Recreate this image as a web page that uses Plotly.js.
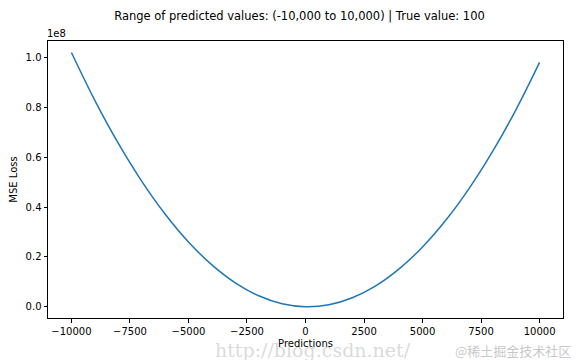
<!DOCTYPE html>
<html>
<head>
<meta charset="utf-8">
<script src="https://cdn.plot.ly/plotly-3.0.1.min.js"></script>
<style>html,body{margin:0;padding:0;background:#fff;}#chart{width:576px;height:360px;}</style>
</head>
<body>
<div id="chart"></div>
<script>
// Predictions and MSE loss (in units of 1e8)
var predictions = [-10000, -9000, -8000, -7000, -6000, -5000, -4000, -3000, -2000, -1000, 0, 1000, 2000, 3000, 4000, 5000, 6000, 7000, 8000, 9000, 10000];
var mseLoss = [1.020, 0.828, 0.656, 0.504, 0.372, 0.260, 0.168, 0.096, 0.044, 0.012, 0.000, 0.008, 0.036, 0.084, 0.152, 0.240, 0.348, 0.476, 0.624, 0.792, 0.980];
var xTicks = [-10000, -7500, -5000, -2500, 0, 2500, 5000, 7500, 10000];
var yTicks = [0.0, 0.2, 0.4, 0.6, 0.8, 1.0];

var font = "DejaVu Sans, sans-serif";
var trace = {
  x: predictions, y: mseLoss, type: 'scatter', mode: 'lines',
  line: {color: '#1f77b4', width: 1.5, shape: 'spline', smoothing: 1},
  hoverinfo: 'none'
};
var layout = {
  width: 576, height: 360,
  margin: {l: 48, r: 13, t: 41, b: 42},
  paper_bgcolor: '#fff', plot_bgcolor: '#fff',
  showlegend: false,
  title: {text: 'Range of predicted values: (-10,000 to 10,000) | True value: 100',
    font: {family: font, size: 11.5, color: '#000'}, x: 0.52, xanchor: 'center', y: 0.955, yanchor: 'middle'},
  xaxis: {range: [-11000, 11000], tickvals: xTicks, ticktext: xTicks.map(function(v){return v<0?'\u2212'+(-v):String(v);}),
    showgrid: false, zeroline: false, showline: true, mirror: true, linecolor: '#000', linewidth: 1,
    ticks: 'outside', ticklen: 3.5, tickcolor: '#000', tickfont: {family: font, size: 10, color: '#000'},
    title: {text: 'Predictions', font: {family: font, size: 10, color: '#000'}, standoff: 4}},
  yaxis: {range: [-0.045, 1.066], tickvals: yTicks, ticktext: yTicks.map(function(v){return v.toFixed(1);}),
    showgrid: false, zeroline: false, showline: true, mirror: true, linecolor: '#000', linewidth: 1,
    ticks: 'outside', ticklen: 3.5, tickcolor: '#000', tickfont: {family: font, size: 10, color: '#000'},
    title: {text: 'MSE Loss', font: {family: font, size: 10, color: '#000'}, standoff: 6}},
  annotations: [
    {text: '1e8', xref: 'paper', yref: 'paper', x: 0, y: 1, xanchor: 'left', yanchor: 'bottom', showarrow: false,
      font: {family: font, size: 10, color: '#000'}, xshift: -3, yshift: 0},
    {text: 'http://blog.csdn.net/', xref: 'paper', yref: 'paper', x: 0.32, y: 0, xanchor: 'left', yanchor: 'top', showarrow: false,
      font: {family: 'DejaVu Serif, serif', size: 19, color: 'rgba(160,160,160,0.4)'}, yshift: -19},
    {text: '@稀土掘金技术社区', xref: 'paper', yref: 'paper', x: 1.02, y: 0, xanchor: 'right', yanchor: 'top', showarrow: false,
      font: {family: 'Noto Sans CJK SC, sans-serif', size: 13, color: 'rgba(150,150,150,0.55)'}, yshift: -21}
  ]
};
Plotly.newPlot('chart', [trace], layout, {displayModeBar: false, staticPlot: true});
</script>
</body>
</html>
